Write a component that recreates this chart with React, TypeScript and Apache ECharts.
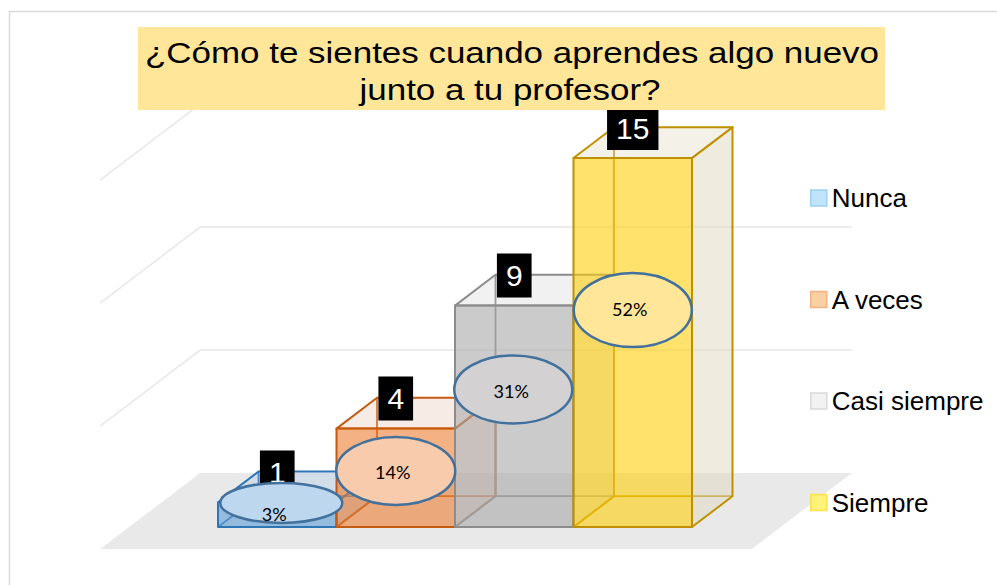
import React, { useEffect, useRef } from "react";
import * as echarts from "echarts";

// ---- data ----
const categories = ["Nunca", "A veces", "Casi siempre", "Siempre"];
const values = [1, 4, 9, 15];
const gridLevels = [5, 10, 15];
const titleLines = ["¿Cómo te sientes cuando aprendes algo nuevo", "junto a tu profesor?"];

// ---- layout / style ----
const calloutAt = [0.98, 2.28, 5.59, 8.82];
const calloutTextAt = [0.53, 2.25, 5.53, 8.86];
const calloutDx = [4, 0, -1, 0];
const calloutRx = [61, 59.5, 59, 59];
const calloutRy = [20, 34, 34, 37];

const faceColors = ["rgba(91,155,213,0.6)", "rgba(237,125,49,0.6)", "rgba(170,168,168,0.6)", "rgba(253,207,8,0.6)"];
const edgeColors = ["#2E75B6", "#C55A11", "#8C8C8C", "#BF9000"];
const topColors = ["rgba(150,190,230,0.28)", "rgba(230,190,170,0.3)", "rgba(200,200,200,0.25)", "rgba(223,215,189,0.35)"];
const sideColors = ["rgba(150,190,230,0.4)", "rgba(230,190,170,0.4)", "rgba(200,200,200,0.4)", "rgba(223,215,189,0.5)"];
const calloutFill = ["#BDD7EE", "#F8CBAD", "#D3D1D1", "#FFE699"];
const legendFill = ["#C0E4FA", "#F9CFA4", "#F2F2F2", "#FFF27A"];
const legendBorder = ["#9DCFF2", "#F4B183", "#D9D9D9", "#FFE14D"];

const SLOPE = -0.76; // depth direction (1, SLOPE)
const BAR_DEPTH = 40.5;
const FLOOR_FRONT = -29;
const FLOOR_BACK = 71;
const FONT = "'Liberation Sans', Arial, sans-serif";

const total = values.reduce((a, b) => a + b, 0);

function makeBarRender(i: number) {
  return (params: any, api: any) => {
    const idx = api.value(0);
    const v = api.value(1);
    const top = api.coord([idx, v]);
    const base = api.coord([idx, 0]);
    const bw = api.size([1, 0])[0];
    const x0 = top[0] - bw / 2;
    const x1 = top[0] + bw / 2;
    const yT = top[1];
    const yB = base[1];
    const dx = BAR_DEPTH;
    const dy = BAR_DEPTH * SLOPE;
    const edge = edgeColors[i];
    const z = i * 10;
    const line = (a: number, b: number, c: number, d: number, z2: number) => ({
      type: "line",
      shape: { x1: a, y1: b, x2: c, y2: d },
      style: { stroke: edge, lineWidth: 1.8 },
      z2,
    });
    const poly = (pts: number[][], fill: string, z2: number) => ({
      type: "polygon",
      shape: { points: pts },
      style: { fill, stroke: edge, lineWidth: 2, lineJoin: "round" },
      z2,
    });
    const pct = Math.round((v / total) * 100);
    const cy = api.coord([idx, calloutAt[i]])[1];
    const ty = api.coord([idx, calloutTextAt[i]])[1];
    return {
      type: "group",
      children: [
        line(x0 + dx, yT + dy, x0 + dx, yB + dy, z),
        line(x0 + dx, yB + dy, x1 + dx, yB + dy, z),
        line(x0, yB, x0 + dx, yB + dy, z),
        poly([[x1, yT], [x1 + dx, yT + dy], [x1 + dx, yB + dy], [x1, yB]], sideColors[i], z + 1),
        poly([[x0, yT], [x1, yT], [x1 + dx, yT + dy], [x0 + dx, yT + dy]], topColors[i], z + 2),
        poly([[x0, yT], [x1, yT], [x1, yB], [x0, yB]], faceColors[i], z + 3),
        {
          type: "text",
          x: top[0],
          y: yT - 8,
          z2: 100,
          style: {
            text: String(v),
            fill: "#fff",
            fontSize: 30,
            fontFamily: FONT,
            align: "center",
            verticalAlign: "bottom",
            backgroundColor: "#000",
            padding: [7, 9, 7, 9],
            lineHeight: 30,
          },
        },
        {
          type: "ellipse",
          z2: 110,
          shape: { cx: top[0] + calloutDx[i], cy, rx: calloutRx[i], ry: calloutRy[i] },
          style: { fill: calloutFill[i], stroke: "#41719C", lineWidth: 2.5 },
        },
        {
          type: "text",
          x: top[0] - 3,
          y: ty,
          z2: 111,
          style: {
            text: pct + "%",
            fill: "#000",
            fontSize: 18,
            fontFamily: "Lato, 'Open Sans', sans-serif",
            align: "center",
            verticalAlign: "middle",
          },
        },
      ],
    };
  };
}

function renderBackground(params: any, api: any) {
  const n = categories.length;
  const bw = api.size([1, 0])[0];
  const first = api.coord([0, 0]);
  const last = api.coord([n - 1, 0]);
  const leftX = first[0] - bw / 2 - bw * 0.75;
  const rightX = last[0] + bw / 2 + bw * 0.75;
  const y0 = first[1];
  const fx = FLOOR_FRONT, fy = FLOOR_FRONT * SLOPE;
  const bx = FLOOR_BACK, by = FLOOR_BACK * SLOPE;
  const children: any[] = [
    {
      type: "polygon",
      shape: {
        points: [
          [leftX + fx, y0 + fy],
          [rightX + fx, y0 + fy],
          [rightX + bx, y0 + by],
          [leftX + bx, y0 + by],
        ],
      },
      style: { fill: "#E9E9E9" },
    },
  ];
  gridLevels.forEach((lv) => {
    const y = api.coord([0, lv])[1];
    children.push({
      type: "polyline",
      shape: { points: [[leftX + fx, y + fy], [leftX + bx, y + by], [rightX + bx, y + by]] },
      style: { stroke: "#E8E8E8", lineWidth: 1.5, fill: null },
    });
  });
  return { type: "group", children };
}

export default function App() {
  const ref = useRef<HTMLDivElement>(null);
  useEffect(() => {
    if (!ref.current) return;
    const chart = echarts.init(ref.current, undefined, { renderer: "svg" });
    const option: any = {
      animation: false,
      backgroundColor: "#fff",
      grid: { left: 218, right: 305, top: 158, bottom: 58 },
      xAxis: { type: "category", data: categories, show: false, boundaryGap: true },
      yAxis: { type: "value", min: 0, max: 15, interval: 5, show: false },
      legend: {
        orient: "vertical",
        left: 810,
        top: 185,
        padding: 0,
        itemWidth: 16,
        itemHeight: 16,
        itemGap: 75.5,
        icon: "rect",
        selectedMode: false,
        textStyle: { fontSize: 26, fontFamily: FONT, color: "#000" },
        data: categories.map((c, i) => ({
          name: c,
          itemStyle: { color: legendFill[i], borderColor: legendBorder[i], borderWidth: 1.5 },
        })),
      },
      graphic: [
        { type: "line", shape: { x1: 9, y1: 11.5, x2: 997, y2: 11.5 }, style: { stroke: "#D9D9D9", lineWidth: 1.5 } },
        { type: "line", shape: { x1: 9.5, y1: 11, x2: 9.5, y2: 585 }, style: { stroke: "#D9D9D9", lineWidth: 1.5 } },
        { type: "rect", z: 100, shape: { x: 138, y: 27, width: 747, height: 83 }, style: { fill: "#FFE699" } },
        {
          type: "text",
          z: 101,
          x: 512,
          y: 52.6,
          scaleX: 1.165,
          style: { text: titleLines[0], fill: "#000", fontSize: 30, fontFamily: FONT, align: "center", verticalAlign: "middle" },
        },
        {
          type: "text",
          z: 101,
          x: 510,
          y: 89.6,
          scaleX: 1.165,
          style: { text: titleLines[1], fill: "#000", fontSize: 30, fontFamily: FONT, align: "center", verticalAlign: "middle" },
        },
      ],
      series: [
        {
          type: "custom",
          name: "_floor",
          z: 1,
          silent: true,
          data: [[0, 0]],
          encode: { x: 0, y: 1 },
          renderItem: renderBackground,
        },
        ...categories.map((c, i) => ({
          type: "custom",
          name: c,
          z: 2,
          itemStyle: { color: legendFill[i], borderColor: legendBorder[i] },
          data: [[i, values[i]]],
          encode: { x: 0, y: 1 },
          renderItem: makeBarRender(i),
        })),
      ],
    };
    chart.setOption(option);
    return () => chart.dispose();
  }, []);
  return <div ref={ref} style={{ position: "fixed", left: 0, top: 0, width: 997, height: 585 }} />;
}
